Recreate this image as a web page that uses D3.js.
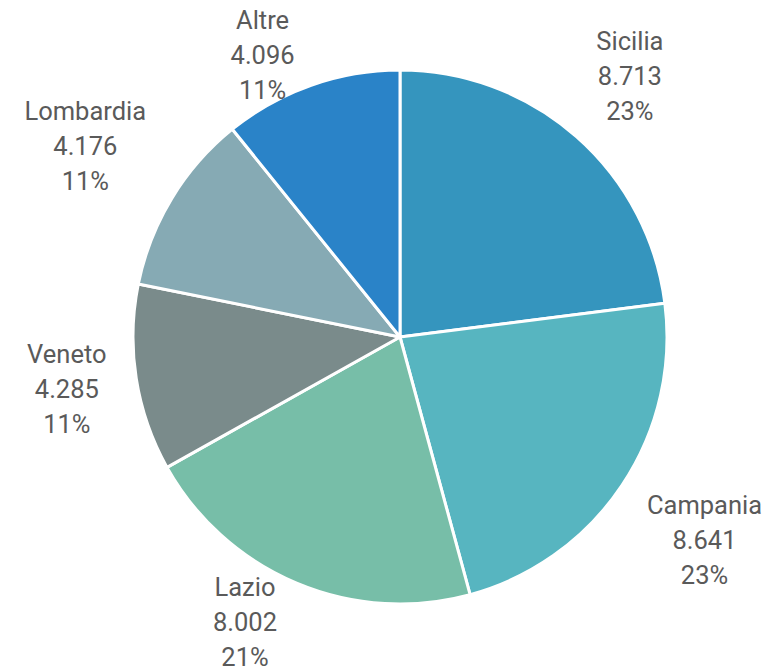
<!DOCTYPE html>
<html>
<head>
<meta charset="utf-8">
<script src="https://cdn.jsdelivr.net/npm/d3@7"></script>
<style>
  html, body { margin: 0; padding: 0; background: #fff; }
  svg { display: block; }
</style>
</head>
<body>
<div id="chart"></div>
<script>
const regions = ["Sicilia", "Campania", "Lazio", "Veneto", "Lombardia", "Altre"];
const values = [8713, 8641, 8002, 4285, 4176, 4096];
const colors = ["#3595be", "#57b5c0", "#77bea8", "#7a8b8b", "#86aab4", "#2a83c8"];

const width = 773;
const height = 671;
const cx = 400, cy = 337, radius = 267;
const fontSize = 25.5, lineH = 35;

const svg = d3.select("#chart")
  .append("svg")
  .attr("width", width)
  .attr("height", height)
  .attr("viewBox", [0, 0, width, height]);

const total = d3.sum(values);
const fmt = d3.formatLocale({ decimal: ",", thousands: ".", grouping: [3] }).format(",");

const pie = d3.pie().sort(null).value(d => d.value);
const arcs = pie(regions.map((r, i) => ({ name: r, value: values[i], color: colors[i] })));

const arc = d3.arc().innerRadius(0).outerRadius(radius);

const g = svg.append("g").attr("transform", `translate(${cx},${cy})`);

g.selectAll("path")
  .data(arcs)
  .join("path")
  .attr("d", arc)
  .attr("fill", d => d.data.color)
  .attr("stroke", "#fff")
  .attr("stroke-width", 3)
  .attr("stroke-linejoin", "round");

// Labels outside, edge of text box a fixed gap from the pie
const gap = 30;
const labels = g.selectAll("text.label")
  .data(arcs)
  .join("text")
  .attr("class", "label")
  .attr("text-anchor", "middle")
  .attr("font-family", "Roboto, 'Noto Sans', sans-serif")
  .attr("font-size", fontSize)
  .attr("fill", "#5a5a5a");

labels.each(function(d) {
  const t = d3.select(this);
  const lines = [d.data.name, fmt(d.data.value), Math.round(d.data.value / total * 100) + "%"];
  lines.forEach((s, i) => t.append("tspan").attr("x", 0).attr("dy", i ? lineH : 0).text(s));
  const bb = this.getBBox();
  const hw = bb.width / 2, hh = (lineH * 3) / 2;
  const a = (d.startAngle + d.endAngle) / 2;
  const ux = Math.sin(a), uy = -Math.cos(a);
  const edge = Math.min(hw / Math.max(Math.abs(ux), 1e-6), hh / Math.max(Math.abs(uy), 1e-6));
  let x = (radius + gap + edge) * ux;
  let y = (radius + gap + edge) * uy;
  // keep inside the picture
  const top = -cy + hh + 3, bottom = height - cy - hh + 4;
  if (y < top) { y = top; x -= 20; }
  if (y > bottom) { y = bottom; x -= 18; }
  t.attr("transform", `translate(${x},${y - hh + lineH * 0.75})`);
});
</script>
</body>
</html>
